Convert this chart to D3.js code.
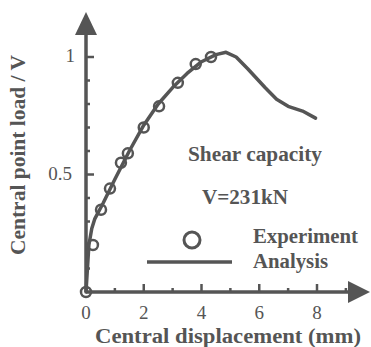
<!DOCTYPE html>
<html><head><meta charset="utf-8">
<script src="https://cdn.jsdelivr.net/npm/d3@7"></script>
<style>body{margin:0;background:#fff}svg{display:block}</style>
</head><body>
<script>
// Data
const expX = [0, 0.24, 0.52, 0.83, 1.21, 1.45, 2.0, 2.53, 3.18, 3.8, 4.33];
const expY = [0, 0.20, 0.35, 0.44, 0.55, 0.59, 0.70, 0.79, 0.89, 0.97, 1.0];
const anaX = [0, 0.1, 0.2, 0.3, 0.6, 1.0, 1.5, 2.0, 2.5, 3.0, 3.5, 4.0, 4.5, 4.85, 5.2, 5.6, 6.2, 6.6, 7.0, 7.5, 7.95];
const anaY = [0, 0.20, 0.27, 0.31, 0.38, 0.48, 0.60, 0.71, 0.80, 0.87, 0.93, 0.98, 1.01, 1.02, 1.0, 0.95, 0.87, 0.82, 0.79, 0.77, 0.74];
const xMajor = [0, 2, 4, 6, 8];
const xMinor = [1, 3, 5, 7, 9];
const yMajor = [0.5, 1];
const yMinor = [0.1, 0.2, 0.3, 0.4, 0.6, 0.7, 0.8, 0.9];
const xTitle = "Central displacement (mm)";
const yTitle = "Central point load / V";
const annot = ["Shear capacity", "V=231kN"];
const legendLabels = ["Experiment", "Analysis"];

const W = 371, H = 347;
const col = "#555";
const svg = d3.select("body").append("svg").attr("width", W).attr("height", H);
const x = d3.scaleLinear().domain([0, 8]).range([86, 317]);
const y = d3.scaleLinear().domain([0, 1]).range([292, 57]);
const serif = "'Liberation Serif','DejaVu Serif',serif";

// axes lines
svg.append("line").attr("x1", x(0)).attr("x2", 352).attr("y1", y(0)).attr("y2", y(0))
  .attr("stroke", col).attr("stroke-width", 3.5);
svg.append("line").attr("x1", x(0)).attr("x2", x(0)).attr("y1", y(0)).attr("y2", 32)
  .attr("stroke", col).attr("stroke-width", 3.5);
// arrows
svg.append("path").attr("d", `M370,${y(0)} L348,${y(0)-11} L348,${y(0)+11} Z`).attr("fill", col);
svg.append("path").attr("d", `M${x(0)},12 L${x(0)-11},35 L${x(0)+11},35 Z`).attr("fill", col);

// x ticks
svg.selectAll(".xmaj").data(xMajor.filter(d => d > 0)).join("line")
  .attr("x1", d => x(d)).attr("x2", d => x(d)).attr("y1", y(0)).attr("y2", y(0) - 8)
  .attr("stroke", col).attr("stroke-width", 2.5);
svg.selectAll(".xmin").data(xMinor).join("line")
  .attr("x1", d => x(d)).attr("x2", d => x(d)).attr("y1", y(0)).attr("y2", y(0) - 4)
  .attr("stroke", col).attr("stroke-width", 2.5);
svg.selectAll(".xlab").data(xMajor).join("text")
  .attr("x", d => x(d)).attr("y", 319).attr("text-anchor", "middle")
  .attr("font-family", serif).attr("font-size", 19).attr("fill", col).text(d => d);

// y ticks
svg.selectAll(".ymaj").data(yMajor).join("line")
  .attr("x1", x(0)).attr("x2", x(0) + 8).attr("y1", d => y(d)).attr("y2", d => y(d))
  .attr("stroke", col).attr("stroke-width", 2.5);
svg.selectAll(".ymin").data(yMinor).join("line")
  .attr("x1", x(0)).attr("x2", x(0) + 4).attr("y1", d => y(d)).attr("y2", d => y(d))
  .attr("stroke", col).attr("stroke-width", 2.5);
svg.selectAll(".ylab").data(yMajor).join("text")
  .attr("x", d => d === 1 ? 75 : 72).attr("y", d => y(d) + 5).attr("text-anchor", "end")
  .attr("font-family", serif).attr("font-size", 19).attr("fill", col).text(d => d);

// analysis line
const pts = anaX.map((v, i) => [v, anaY[i]]);
svg.append("path").datum(pts)
  .attr("d", d3.line().x(d => x(d[0])).y(d => y(d[1])).curve(d3.curveLinear))
  .attr("fill", "none").attr("stroke", col).attr("stroke-width", 3.5).attr("stroke-linejoin", "round").attr("stroke-linecap", "round");

// experimental circles
svg.selectAll(".exp").data(expX.map((v, i) => [v, expY[i]])).join("circle")
  .attr("cx", d => x(d[0])).attr("cy", d => y(d[1])).attr("r", 5)
  .attr("fill", "none").attr("stroke", col).attr("stroke-width", 2.5);

// titles
svg.append("text").attr("x", 228).attr("y", 343).attr("text-anchor", "middle")
  .attr("font-family", serif).attr("font-weight", "bold").attr("font-size", 20).attr("fill", col)
  .attr("textLength", 266).attr("lengthAdjust", "spacingAndGlyphs").text(xTitle);
svg.append("text").attr("transform", "translate(25,155) rotate(-90)").attr("text-anchor", "middle")
  .attr("font-family", serif).attr("font-weight", "bold").attr("font-size", 20).attr("fill", col)
  .attr("textLength", 200).attr("lengthAdjust", "spacingAndGlyphs").text(yTitle);

// annotation
svg.append("text").attr("x", 188).attr("y", 161)
  .attr("font-family", serif).attr("font-weight", "bold").attr("font-size", 20).attr("fill", col)
  .attr("textLength", 134).attr("lengthAdjust", "spacingAndGlyphs").text(annot[0]);
svg.append("text").attr("x", 202).attr("y", 204)
  .attr("font-family", serif).attr("font-weight", "bold").attr("font-size", 20).attr("fill", col)
  .attr("textLength", 86).attr("lengthAdjust", "spacingAndGlyphs").text(annot[1]);

// legend
svg.append("circle").attr("cx", 192).attr("cy", 240).attr("r", 8).attr("fill", "none")
  .attr("stroke", col).attr("stroke-width", 3);
svg.append("line").attr("x1", 147).attr("x2", 232).attr("y1", 262).attr("y2", 262)
  .attr("stroke", col).attr("stroke-width", 3.5);
svg.selectAll(".leg").data(legendLabels).join("text")
  .attr("x", 253).attr("y", (d, i) => 243 + i * 25)
  .attr("font-family", serif).attr("font-weight", "bold").attr("font-size", 20).attr("fill", col)
  .attr("textLength", (d, i) => i === 0 ? 105 : 75).attr("lengthAdjust", "spacingAndGlyphs").text(d => d);
</script>
</body></html>
